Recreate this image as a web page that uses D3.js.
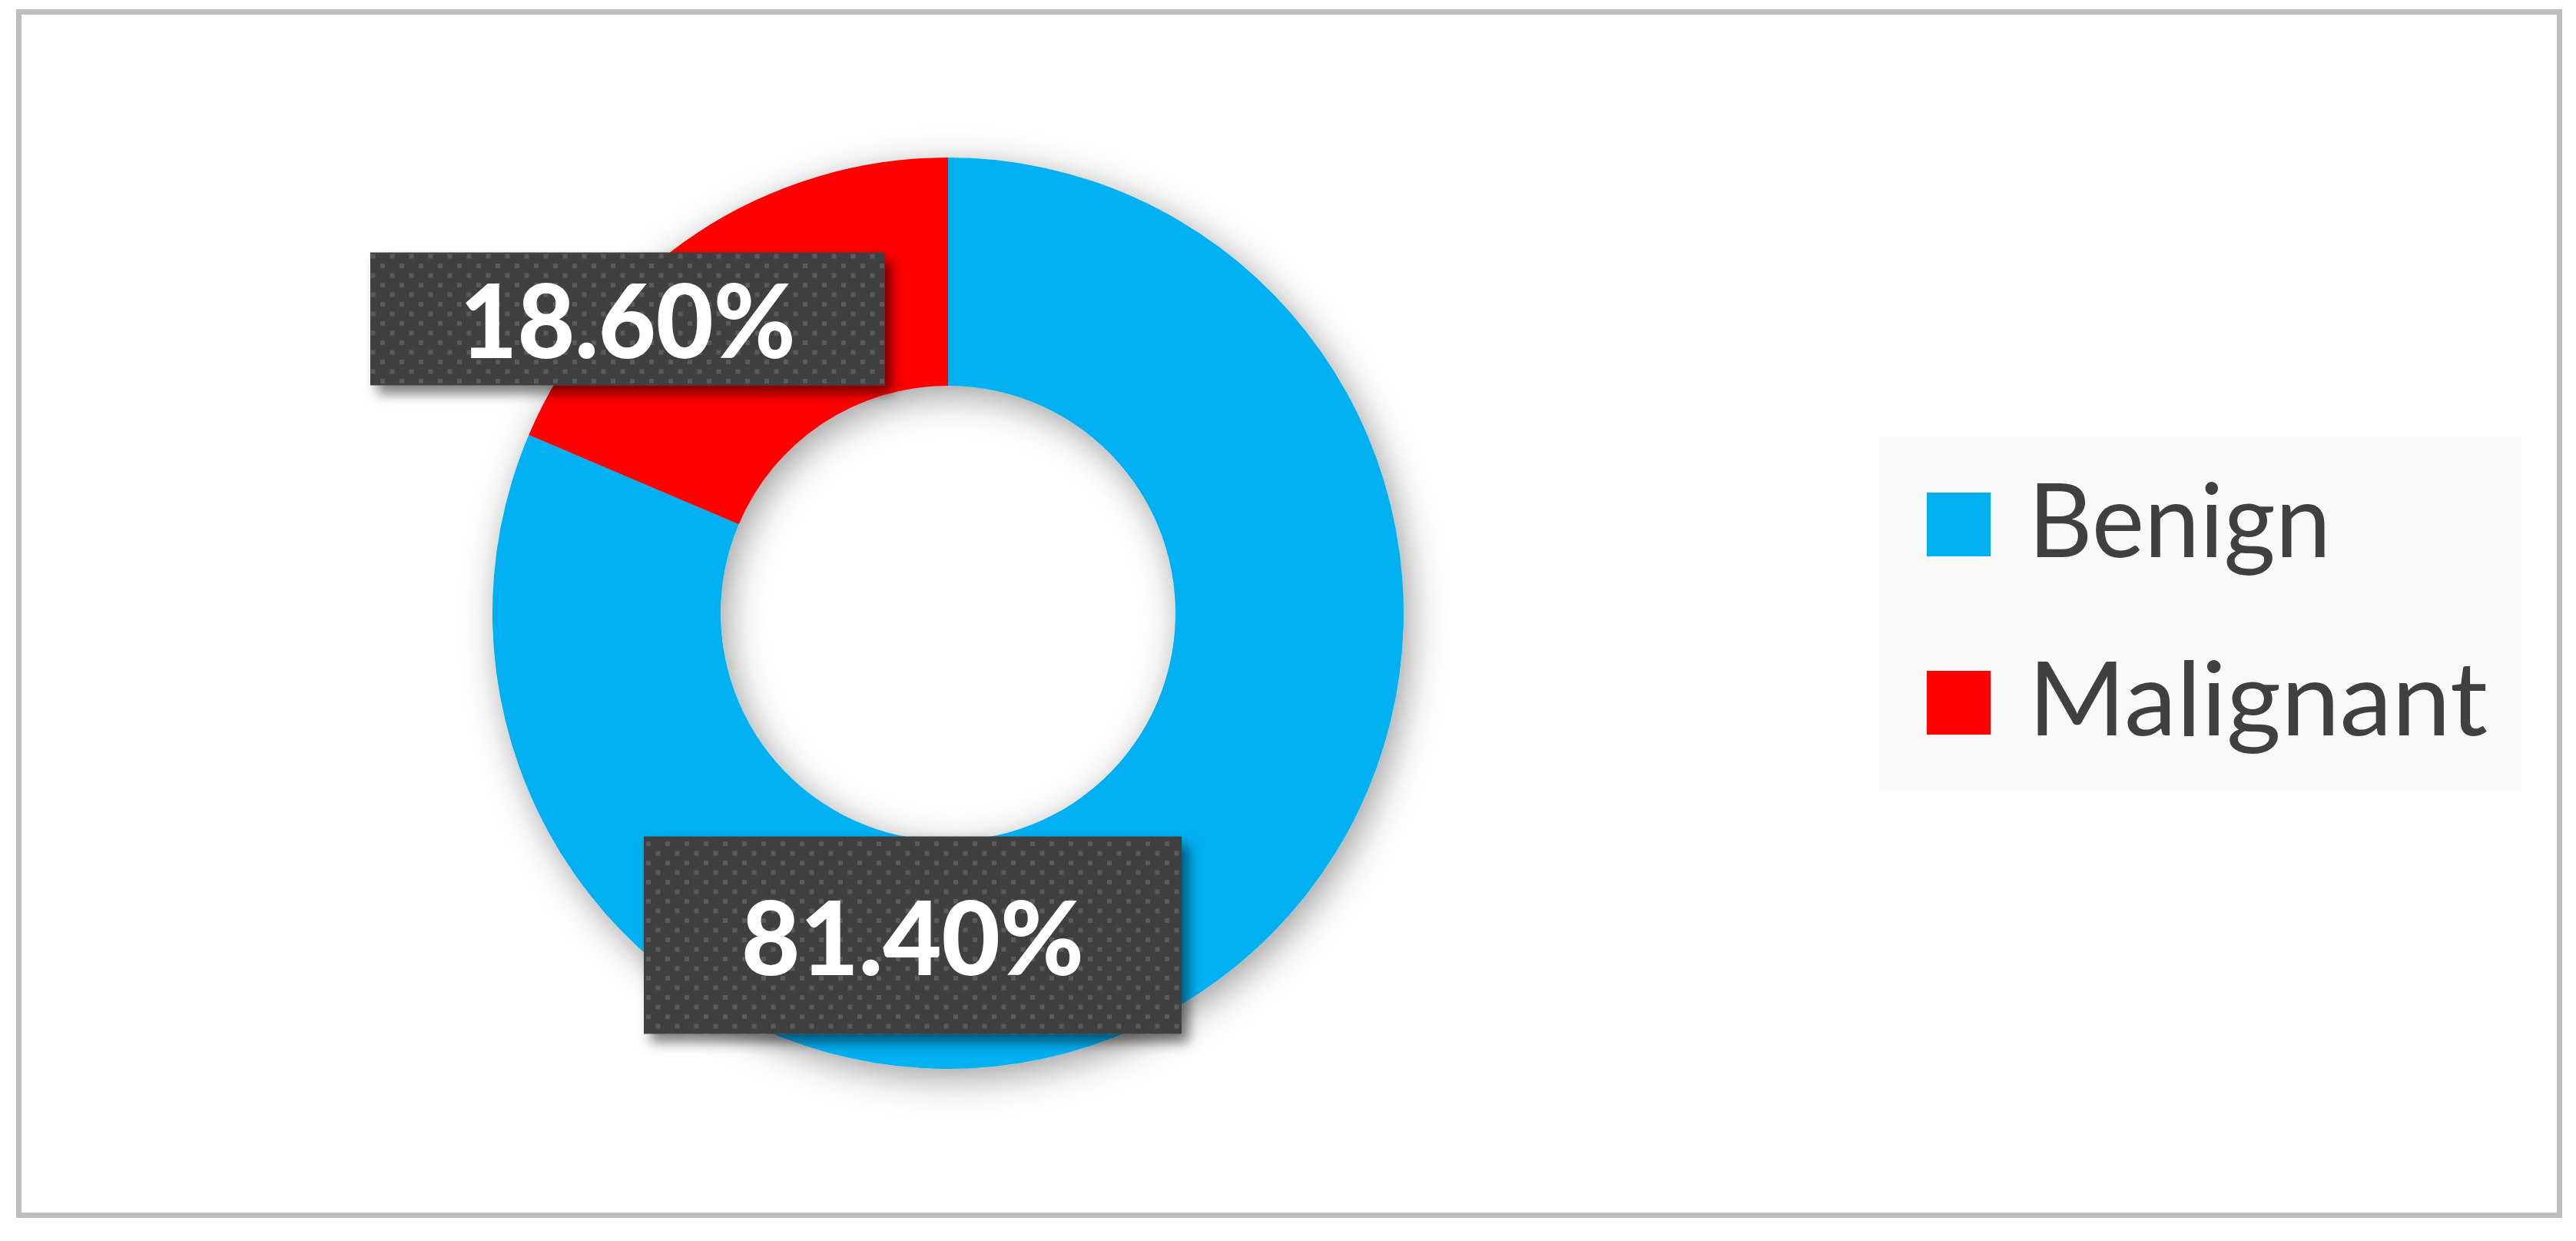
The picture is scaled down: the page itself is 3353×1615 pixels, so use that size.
<!DOCTYPE html>
<html>
<head>
<meta charset="utf-8">
<script src="https://cdn.jsdelivr.net/npm/d3@7/dist/d3.min.js"></script>
<style>
	body { margin: 0; background: #ffffff; }
	svg { display: block; }
</style>
</head>
<body>
<div id="chart"></div>
<script>
// data
var categories = ["Benign", "Malignant"];
var values = [81.4, 18.6];
var labels = ["81.40%", "18.60%"];
var colors = ["#00b0f0", "#ff0000"];

// chart dimensions
var width = 3353;
var height = 1615;
var center = { x: 1234, y: 798 };
var outerRadius = 593;
var innerRadius = 296;

// label boxes, placed relative to the donut centre (Excel moved them by hand)
var labelBoxes = [
	{ dx: -46, dy: 419, w: 700, h: 257, textWidth: 446, baseline: 52 },
	{ dx: -417, dy: -383, w: 670, h: 173, textWidth: 437, baseline: 51 }
];

var svg = d3.select("#chart")
  .append("svg")
	.attr("width", width)
	.attr("height", height);

var defs = svg.append("defs");

// soft shadow under the donut
var donutShadow = defs.append("filter")
	.attr("id", "donutShadow")
	.attr("x", "-20%").attr("y", "-20%")
	.attr("width", "140%").attr("height", "140%");
donutShadow.append("feDropShadow")
	.attr("dx", 8).attr("dy", 12)
	.attr("stdDeviation", 24)
	.attr("flood-color", "#000")
	.attr("flood-opacity", 0.38);

// shadow under the label boxes
var boxShadow = defs.append("filter")
	.attr("id", "boxShadow")
	.attr("x", "-20%").attr("y", "-30%")
	.attr("width", "140%").attr("height", "160%");
boxShadow.append("feDropShadow")
	.attr("dx", 9).attr("dy", 11)
	.attr("stdDeviation", 8)
	.attr("flood-color", "#000")
	.attr("flood-opacity", 0.5);

// dotted fill of the label boxes
var dots = defs.append("pattern")
	.attr("id", "dots")
	.attr("patternUnits", "userSpaceOnUse")
	.attr("width", 25)
	.attr("height", 25);
dots.append("rect")
	.attr("width", 25).attr("height", 25)
	.attr("fill", "#404040");
dots.append("rect")
	.attr("x", 3).attr("y", 3)
	.attr("width", 6).attr("height", 6)
	.attr("fill", "#5a5a5a");
dots.append("rect")
	.attr("x", 15.5).attr("y", 15.5)
	.attr("width", 6).attr("height", 6)
	.attr("fill", "#5a5a5a");

// chart border
svg.append("rect")
	.attr("x", 24.5)
	.attr("y", 15.5)
	.attr("width", 3307)
	.attr("height", 1566)
	.attr("fill", "#ffffff")
	.attr("stroke", "#bfbfbf")
	.attr("stroke-width", 7);

// donut
var pie = d3.pie()
	.sort(null)
	.value(function(d) { return d; });

var arc = d3.arc()
	.innerRadius(innerRadius)
	.outerRadius(outerRadius);

var donut = svg.append("g")
	.attr("transform", "translate(" + center.x + "," + center.y + ")")
	.attr("filter", "url(#donutShadow)");

donut.selectAll(".slice")
	.data(pie(values))
  .enter().append("path")
	.attr("class", "slice")
	.attr("d", arc)
	.attr("fill", function(d, i) { return colors[i]; });

// data labels
var label = svg.selectAll(".label")
	.data(labels)
  .enter().append("g")
	.attr("class", "label")
	.attr("transform", function(d, i) {
		var b = labelBoxes[i];
		return "translate(" + (center.x + b.dx) + "," + (center.y + b.dy) + ")";
	});

label.append("rect")
	.attr("x", function(d, i) { return -labelBoxes[i].w / 2; })
	.attr("y", function(d, i) { return -labelBoxes[i].h / 2; })
	.attr("width", function(d, i) { return labelBoxes[i].w; })
	.attr("height", function(d, i) { return labelBoxes[i].h; })
	.attr("fill", "url(#dots)")
	.attr("filter", "url(#boxShadow)");

label.append("text")
	.attr("x", 0)
	.attr("y", function(d, i) { return labelBoxes[i].baseline; })
	.attr("text-anchor", "middle")
	.attr("textLength", function(d, i) { return labelBoxes[i].textWidth; })
	.attr("lengthAdjust", "spacingAndGlyphs")
	.style("font-family", "Lato, 'Open Sans', sans-serif")
	.style("font-weight", "900")
	.style("font-size", "134px")
	.style("fill", "#ffffff")
	.text(function(d) { return d; });

// legend
var legend = svg.append("g")
	.attr("transform", "translate(2446,568)");

legend.append("rect")
	.attr("width", 835)
	.attr("height", 461)
	.attr("fill", "#f9f9f9");

var legendWidths = [394, 598];

var item = legend.selectAll(".item")
	.data(categories)
  .enter().append("g")
	.attr("class", "item")
	.attr("transform", function(d, i) { return "translate(62," + (73 + i * 232) + ")"; });

item.append("rect")
	.attr("width", 83)
	.attr("height", 83)
	.attr("fill", function(d, i) { return colors[i]; });

item.append("text")
	.attr("x", 132)
	.attr("y", 84)
	.attr("textLength", function(d, i) { return legendWidths[i]; })
	.attr("lengthAdjust", "spacingAndGlyphs")
	.style("font-family", "Lato, 'Open Sans', sans-serif")
	.style("font-size", "134px")
	.style("fill", "#404040")
	.text(function(d) { return d; });
</script>
</body>
</html>
